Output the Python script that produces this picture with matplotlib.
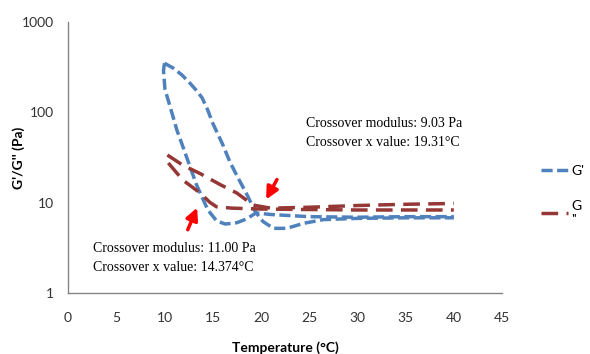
import matplotlib.pyplot as plt

# G' loop: steep branch and broad branch, both leaving the 350 Pa apex at 10 °C
g1_a_temp = [10.0, 9.9, 10.05, 10.6, 11.3, 11.9, 12.65, 13.3, 13.9, 14.5, 15.4, 16.3,
             17.5, 18.5, 19.5, 21, 25, 30, 35, 40]
g1_a_val = [350, 290, 180, 114, 63, 42, 25, 16, 11.5, 8.3, 6.3, 5.8,
            6.0, 6.6, 7.7, 7.4, 7.0, 6.9, 7.0, 7.0]
g1_b_temp = [10.0, 10.9, 11.8, 12.65, 13.3, 13.9, 14.5, 15.0, 16.0, 16.8, 17.5, 18.6,
             19.4, 20.2, 21.3, 22.7, 24.4, 26.5, 30, 35, 40]
g1_b_val = [350, 309, 260, 210, 175, 145, 105, 76, 45, 28, 20, 12,
            8.0, 6.2, 5.2, 5.2, 5.9, 6.5, 6.7, 6.8, 6.8]

# G'' loop
g2_a_temp = [10.3, 11.9, 13.7, 15.8, 17.5, 19.2, 21, 25, 30, 35, 40]
g2_a_val = [33.7, 26, 21, 15.8, 12.8, 9.4, 8.7, 8.9, 9.3, 9.6, 9.8]
g2_b_temp = [10.4, 11.9, 13.7, 14.7, 15.4, 17, 20, 25, 30, 35, 40]
g2_b_val = [27.5, 17.8, 12.8, 10.1, 9.0, 8.7, 8.5, 8.4, 8.3, 8.3, 8.3]

x_ticks = [0, 5, 10, 15, 20, 25, 30, 35, 40, 45]
y_ticks = [1, 10, 100, 1000]

blue = '#4F81BD'
red = '#953735'

fig = plt.figure(figsize=(5.9, 3.54), dpi=100)
ax = fig.add_axes([0.1153, 0.1723, 0.7356, 0.7655])

ax.plot(g1_a_temp, g1_a_val, color=blue, lw=2.5, dashes=(3.2, 1.3), label="G'")
ax.plot(g1_b_temp, g1_b_val, color=blue, lw=2.5, dashes=(3.2, 1.3))
ax.plot(g2_a_temp, g2_a_val, color=red, lw=2.5, dashes=(4.8, 2.4), label="G\n''")
ax.plot(g2_b_temp, g2_b_val, color=red, lw=2.5, dashes=(4.8, 2.4))

ax.set_yscale('log')
ax.set_xlim(0, 45)
ax.set_ylim(1, 1000)
ax.set_xticks(x_ticks)
ax.set_xticklabels([str(t) for t in x_ticks])
ax.set_yticks(y_ticks)
ax.set_yticklabels([str(t) for t in y_ticks])
ax.minorticks_off()
ax.tick_params(length=0, labelsize=10, colors='#333333')
ax.tick_params(axis='x', pad=14)
ax.tick_params(axis='y', pad=10)
for lab in ax.get_xticklabels() + ax.get_yticklabels():
    lab.set_family('Lato')

for side in ['top', 'right']:
    ax.spines[side].set_visible(False)
for side in ['left', 'bottom']:
    ax.spines[side].set_color('#868686')
    ax.spines[side].set_linewidth(1)

ax.set_ylabel("G'/G'' (Pa)", fontsize=10, fontweight='bold', family='Lato')
ax.yaxis.set_label_coords(-0.10, 0.5)
ax.set_xlabel("Temperature (\u00b0C)", fontsize=10, fontweight='bold', family='Lato', labelpad=12)

ax.text(24.7, 59, "Crossover modulus: 9.03 Pa\nCrossover x value: 19.31\u00b0C",
        family='Liberation Serif', fontsize=10, va='center', ha='left', linespacing=1.6)
ax.text(2.6, 2.47, "Crossover modulus: 11.00 Pa\nCrossover x value: 14.374\u00b0C",
        family='Liberation Serif', fontsize=10, va='center', ha='left', linespacing=1.6)

arrow = dict(arrowstyle='-|>', color='red', lw=2.5, mutation_scale=18)
ax.annotate('', xy=(13.5, 9.4), xytext=(12.3, 4.7), arrowprops=arrow)
ax.annotate('', xy=(20.4, 10.2), xytext=(21.8, 19.2), arrowprops=arrow)

leg = ax.legend(loc='center left', bbox_to_anchor=(1.06, 0.36), frameon=False,
                handlelength=2.0, handletextpad=0.2, labelspacing=1.6,
                prop={'family': 'Lato', 'size': 10})

fig.savefig('out.png', dpi=100)
